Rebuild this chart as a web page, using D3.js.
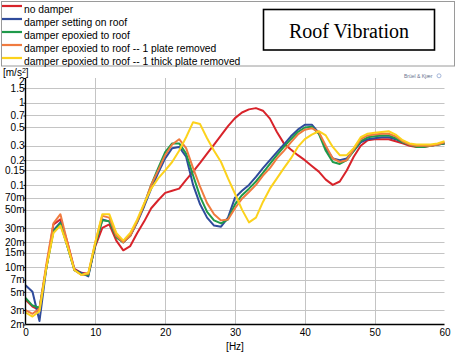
<!DOCTYPE html>
<html lang="en">
  <head>
    <meta charset="UTF-8" />
    <title>Roof Vibration</title>
    <style>
      body {
        margin: 0;
        background: #fff;
        font-family: "Liberation Sans", Arial, sans-serif;
      }
      svg {
        display: block;
      }
      .grid line {
        stroke: #c4c4c4;
        stroke-width: 1;
      }
      .tick-label {
        font-size: 10px;
        fill: #000;
      }
      .legend-label {
        font-size: 10.3px;
        fill: #000;
      }
      .series {
        fill: none;
        stroke-width: 2;
        stroke-linejoin: round;
      }
    </style>
  </head>
  <body>
    <script src="https://cdn.jsdelivr.net/npm/d3@7/dist/d3.min.js"></script>
    <script>
      // frequency bins, 1 Hz apart
      const freqs = d3.range(0, 61);

      const seriesNames = [
        "no damper",
        "damper setting on roof",
        "damper epoxied to roof",
        "damper epoxied to roof -- 1 plate removed",
        "damper epoxied to roof -- 1 thick plate removed"
      ];
      const seriesColors = ["#d8232a", "#2f4b9c", "#1f9a4a", "#f07b3f", "#fcd21c"];

      // values in m/s²
      const noDamper = [
        0.004, 0.0033, 0.003, 0.01, 0.033, 0.038, 0.02, 0.0095, 0.0085, 0.0083,
        0.018, 0.03, 0.033, 0.021, 0.016, 0.018, 0.026, 0.036, 0.052, 0.065,
        0.08, 0.085, 0.09, 0.115, 0.145, 0.185, 0.24, 0.31, 0.4, 0.52,
        0.65, 0.76, 0.83, 0.86, 0.8, 0.64, 0.44, 0.32, 0.27, 0.23,
        0.2, 0.17, 0.145, 0.116, 0.1, 0.11, 0.15, 0.22, 0.3, 0.35,
        0.36, 0.36, 0.36, 0.34, 0.32, 0.3, 0.29, 0.29, 0.3, 0.31, 0.32
      ];
      const onRoof = [
        0.006, 0.005, 0.0022, 0.01, 0.028, 0.035, 0.018, 0.0092, 0.0085, 0.0077,
        0.019, 0.038, 0.036, 0.024, 0.02, 0.024, 0.035, 0.055, 0.09, 0.14,
        0.21, 0.28, 0.29, 0.22, 0.1, 0.058, 0.04, 0.032, 0.031, 0.04,
        0.07, 0.085, 0.1, 0.125, 0.16, 0.2, 0.25, 0.31, 0.39, 0.47,
        0.54, 0.54, 0.43, 0.28, 0.21, 0.2, 0.21, 0.26, 0.33, 0.36,
        0.37, 0.38, 0.38, 0.36, 0.33, 0.31, 0.3, 0.3, 0.3, 0.31, 0.32
      ];
      const epoxied = [
        0.0042, 0.0034, 0.0032, 0.01, 0.027, 0.034, 0.018, 0.0092, 0.0082, 0.008,
        0.019, 0.037, 0.036, 0.023, 0.02, 0.024, 0.036, 0.058, 0.1, 0.16,
        0.25, 0.32, 0.32, 0.24, 0.13, 0.072, 0.047, 0.037, 0.034, 0.038,
        0.058, 0.075, 0.09, 0.11, 0.14, 0.18, 0.23, 0.29, 0.36, 0.44,
        0.5, 0.51, 0.42, 0.26, 0.19, 0.18, 0.2, 0.26, 0.34, 0.38,
        0.39, 0.4, 0.4, 0.37, 0.33, 0.31, 0.29, 0.29, 0.3, 0.31, 0.32
      ];
      const plateRemoved = [
        0.003, 0.0027, 0.0031, 0.011, 0.034, 0.044, 0.02, 0.0092, 0.008, 0.0083,
        0.02, 0.042, 0.04, 0.024, 0.02, 0.024, 0.036, 0.058, 0.1, 0.15,
        0.23, 0.31, 0.36, 0.28, 0.16, 0.095, 0.06, 0.044, 0.037, 0.038,
        0.052, 0.068, 0.082, 0.1, 0.13, 0.16, 0.21, 0.26, 0.33, 0.41,
        0.47, 0.49, 0.44, 0.3, 0.21, 0.19, 0.2, 0.27, 0.36, 0.4,
        0.41, 0.42, 0.42, 0.39, 0.34, 0.31, 0.3, 0.3, 0.3, 0.31, 0.33
      ];
      const thickRemoved = [
        0.0028, 0.0025, 0.0029, 0.01, 0.026, 0.032, 0.018, 0.0092, 0.008, 0.0085,
        0.02, 0.044, 0.044, 0.026, 0.021, 0.026, 0.038, 0.06, 0.09, 0.12,
        0.15, 0.19, 0.26, 0.38, 0.58, 0.55, 0.37, 0.26, 0.19, 0.12,
        0.078, 0.05, 0.035, 0.04, 0.062, 0.09, 0.12, 0.16, 0.21, 0.29,
        0.36, 0.41, 0.45, 0.4, 0.29, 0.23, 0.23, 0.28, 0.38, 0.42,
        0.43, 0.44, 0.45, 0.41, 0.35, 0.32, 0.31, 0.31, 0.31, 0.32, 0.34
      ];
      const allSeries = [noDamper, onRoof, epoxied, plateRemoved, thickRemoved];

      const yTicks = [2, 1.5, 1, 0.7, 0.5, 0.3, 0.2, 0.15, 0.1, 0.07, 0.05, 0.03, 0.02, 0.015, 0.01, 0.007, 0.005, 0.003, 0.002];
      const yTickLabels = ["2", "1.5", "1", "0.7", "0.5", "0.3", "0.2", "0.15", "0.1", "70m", "50m", "30m", "20m", "15m", "10m", "7m", "5m", "3m", "2m"];
      const xTicks = [0, 10, 20, 30, 40, 50, 60];

      const W = 458, H = 353;
      const plotLeft = 25.5, plotRight = 444.5, plotTop = 78, plotBottom = 324.5;

      const svg = d3.select("body").append("svg").attr("width", W).attr("height", H);

      const x = d3.scaleLinear().domain([0, 60]).range([plotLeft, plotRight]);
      const y = d3.scaleLog().domain([0.002, 2]).range([plotBottom, plotTop]);

      // header box with legend and title
      svg.append("rect")
        .attr("x", 1.5).attr("y", 1.5).attr("width", 453).attr("height", 64.5)
        .attr("fill", "none").attr("stroke", "#9a9a9a").attr("stroke-width", 1);

      const legend = svg.append("g");
      seriesNames.forEach((name, i) => {
        const ly = 6 + i * 13;
        legend.append("line")
          .attr("x1", 2).attr("x2", 22).attr("y1", ly).attr("y2", ly)
          .attr("stroke", seriesColors[i]).attr("stroke-width", 2.2);
        legend.append("text")
          .attr("class", "legend-label")
          .attr("x", 24).attr("y", ly + 6.5)
          .text(name);
      });

      svg.append("rect")
        .attr("x", 263.5).attr("y", 9.5).attr("width", 171).attr("height", 40.5)
        .attr("fill", "none").attr("stroke", "#000").attr("stroke-width", 1.6);
      svg.append("text")
        .attr("x", 349).attr("y", 38)
        .attr("text-anchor", "middle")
        .style("font-family", "'Liberation Serif', 'Times New Roman', serif")
        .style("font-size", "20px")
        .text("Roof Vibration");

      svg.append("text")
        .attr("x", 404).attr("y", 77.5)
        .style("font-size", "5px").attr("fill", "#6a7590")
        .text("Brüel & Kjær");
      svg.append("circle")
        .attr("cx", 439).attr("cy", 75.8).attr("r", 2)
        .attr("fill", "none").attr("stroke", "#8fa6d0").attr("stroke-width", 0.8);

      // grid
      const grid = svg.append("g").attr("class", "grid");
      grid.selectAll(".h")
        .data(yTicks.filter(v => v < 2 && v > 0.002))
        .join("line")
        .attr("x1", plotLeft).attr("x2", plotRight)
        .attr("y1", d => Math.round(y(d)) + 0.5).attr("y2", d => Math.round(y(d)) + 0.5);
      grid.selectAll(".v")
        .data(xTicks.filter(v => v > 0 && v < 60))
        .join("line")
        .attr("x1", d => Math.round(x(d)) + 0.5).attr("x2", d => Math.round(x(d)) + 0.5)
        .attr("y1", plotTop).attr("y2", plotBottom)
        .attr("stroke", "#d2d2d2");

      // series
      const line = d3.line()
        .x((d, i) => x(freqs[i]))
        .y(d => y(d));
      svg.append("g")
        .selectAll("path")
        .data(allSeries)
        .join("path")
        .attr("class", "series")
        .attr("stroke", (d, i) => seriesColors[i])
        .attr("d", line);

      // axes
      const yAxis = svg.append("g")
        .attr("transform", `translate(${plotLeft},0)`)
        .call(d3.axisLeft(y).tickValues(yTicks).tickSize(2).tickFormat((d, i) => yTickLabels[i]));
      yAxis.attr("font-family", null).attr("font-size", null);
      yAxis.select(".domain").attr("stroke", "#000").attr("stroke-width", 1.4).attr("d", `M0,${plotTop}V${plotBottom}`);
      yAxis.selectAll("text").attr("class", "tick-label").attr("x", -1);
      // the top label sits a little below its tick, as in the original
      yAxis.selectAll("text").filter(d => d === 2).attr("dy", "0.6em");

      const xAxis = svg.append("g")
        .attr("transform", `translate(0,${plotBottom})`)
        .call(d3.axisBottom(x).tickValues(xTicks).tickSize(0).tickPadding(4));
      xAxis.attr("font-family", null).attr("font-size", null);
      xAxis.select(".domain").attr("stroke", "#000").attr("stroke-width", 1.4).attr("d", `M${plotLeft},0H${plotRight}`);
      xAxis.selectAll("text").attr("class", "tick-label");

      svg.append("text")
        .attr("class", "tick-label")
        .attr("x", x(30)).attr("y", 349.5)
        .attr("text-anchor", "middle")
        .text("[Hz]");

      svg.append("text")
        .attr("class", "tick-label")
        .attr("x", 3).attr("y", 75.5)
        .html("[m/s<tspan dy='-3' style='font-size:7px'>2</tspan><tspan dy='3'>]</tspan>");
    </script>
  </body>
</html>
